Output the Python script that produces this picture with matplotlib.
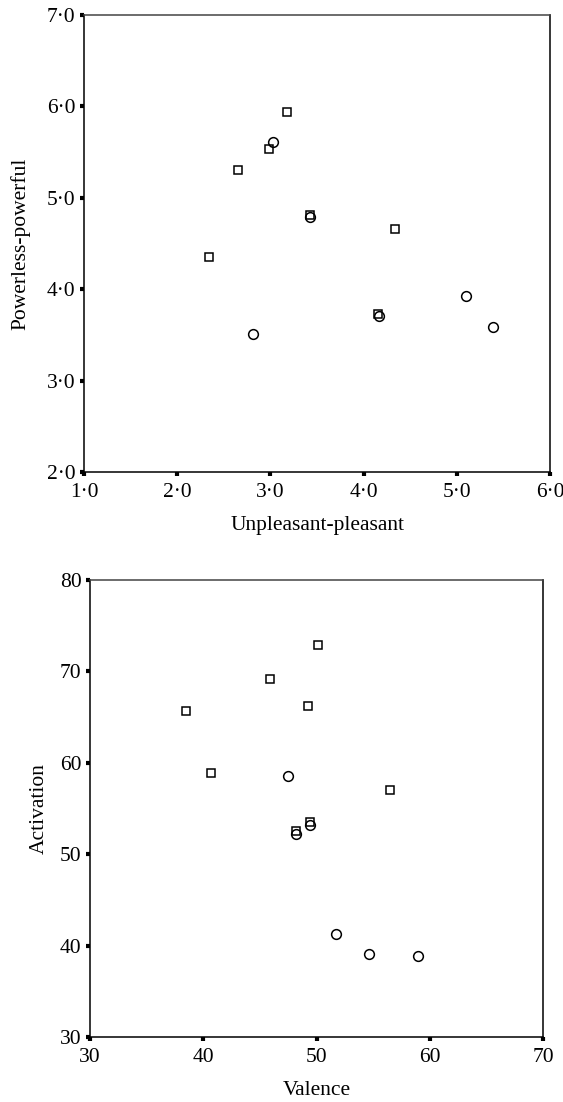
import numpy as np
import matplotlib
matplotlib.use('Agg')
import matplotlib.pyplot as plt

plt.rcParams['font.family'] = ['Liberation Serif', 'DejaVu Serif']

# top panel: unpleasant-pleasant vs powerless-powerful
top_sq_x = [2.34, 2.65, 2.98, 3.18, 3.42, 4.34, 4.15]
top_sq_y = [4.35, 5.30, 5.53, 5.94, 4.81, 4.66, 3.73]
top_ci_x = [3.03, 2.81, 3.42, 4.16, 5.10, 5.39]
top_ci_y = [5.61, 3.51, 4.79, 3.71, 3.93, 3.59]
top_xticks = [1, 2, 3, 4, 5, 6]
top_yticks = [2, 3, 4, 5, 6, 7]
top_xlabels = ['1·0', '2·0', '3·0', '4·0', '5·0', '6·0']
top_ylabels = ['2·0', '3·0', '4·0', '5·0', '6·0', '7·0']

# bottom panel: valence vs activation
bot_sq_x = [38.5, 40.7, 45.9, 50.1, 49.2, 56.5, 48.2, 49.4]
bot_sq_y = [65.7, 58.9, 69.2, 72.9, 66.2, 57.0, 52.5, 53.5]
bot_ci_x = [47.5, 48.2, 49.4, 51.7, 54.6, 59.0]
bot_ci_y = [58.6, 52.2, 53.2, 41.3, 39.1, 38.9]
bot_xticks = [30, 40, 50, 60, 70]
bot_yticks = [30, 40, 50, 60, 70, 80]

FS = 15.5


def style(ax, xt, yt, xl, yl):
    ax.set_xticks(xt)
    ax.set_yticks(yt)
    if xl is not None:
        ax.set_xticklabels(xl)
        ax.set_yticklabels(yl)
    ax.set_xlim(xt[0], xt[-1])
    ax.set_ylim(yt[0], yt[-1])
    for s in ax.spines.values():
        s.set_linewidth(1.1)
    ax.spines['top'].set_color('#444444')
    ax.tick_params(direction='out', length=3, width=3, labelsize=FS)
    ax.tick_params(axis='x', pad=5)
    ax.tick_params(axis='y', pad=3)


fig = plt.figure(figsize=(5.63, 11.02), dpi=100)

ax1 = fig.add_axes([0.1492, 0.5717, 0.828, 0.4147])
ax1.plot(top_sq_x, top_sq_y, 's', ms=5.5, mfc='none', mec='black', mew=1.1, clip_on=False)
ax1.plot(top_ci_x, top_ci_y, 'o', ms=7, mfc='none', mec='black', mew=1.1, clip_on=False)
style(ax1, top_xticks, top_yticks, top_xlabels, top_ylabels)
ax1.set_xlabel('Unpleasant-pleasant', fontsize=FS, labelpad=10)
ax1.set_ylabel('Powerless-powerful', fontsize=FS, labelpad=12)

ax2 = fig.add_axes([0.160, 0.0590, 0.8046, 0.4147])
ax2.plot(bot_sq_x, bot_sq_y, 's', ms=5.5, mfc='none', mec='black', mew=1.1, clip_on=False)
ax2.plot(bot_ci_x, bot_ci_y, 'o', ms=7, mfc='none', mec='black', mew=1.1, clip_on=False)
style(ax2, bot_xticks, bot_yticks, None, None)
ax2.set_xlabel('Valence', fontsize=FS, labelpad=10)
ax2.set_ylabel('Activation', fontsize=FS, labelpad=8)

fig.savefig('out.png', dpi=100)
